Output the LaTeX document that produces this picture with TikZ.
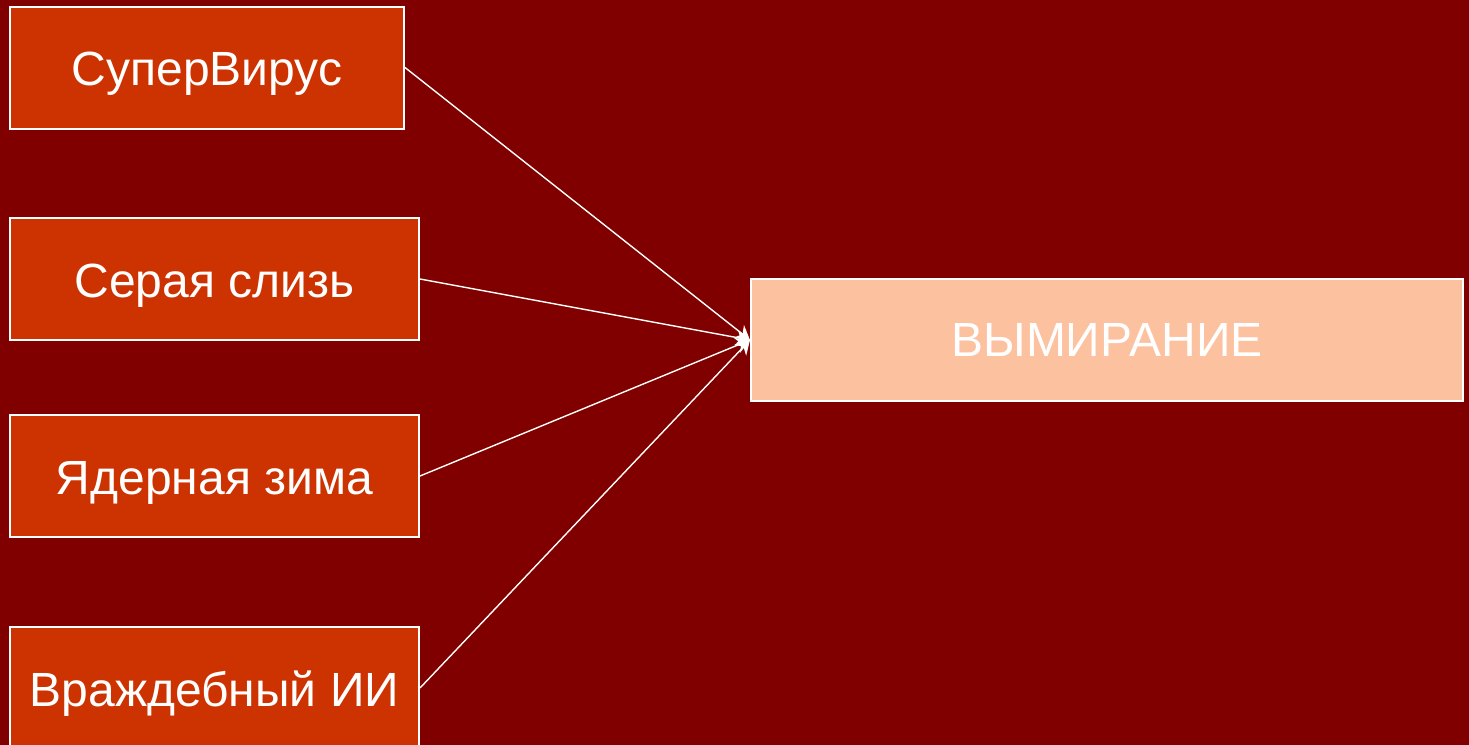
\documentclass[tikz,border=0pt]{standalone}
\usepackage{fontspec}
\setmainfont{Liberation Sans}
\usetikzlibrary{arrows.meta}
\definecolor{darkmaroon}{HTML}{800000}
\definecolor{causered}{HTML}{CC3300}
\definecolor{peach}{HTML}{FCC2A0}

\begin{document}
\begin{tikzpicture}[x=0.5pt,y=-0.5pt,
    cause/.style={draw=white, line width=1pt, fill=causered, text=white,
      minimum width=204.5pt, minimum height=61pt, inner sep=0pt,
      text height=22pt, text depth=4pt, font=\fontsize{24}{28}\selectfont},
    result/.style={draw=white, line width=1pt, fill=peach, text=white,
      minimum width=356pt, minimum height=61pt, inner sep=0pt, font=\fontsize{24}{28}\selectfont},
    link/.style={white, line width=0.7pt, -{Stealth[length=7pt,width=8pt]}}]
  \clip (0,0) rectangle (1469,745);
  \fill[darkmaroon] (0,0) rectangle (1469,745);
  \node[cause, minimum width=197pt] (virus) at (207,67.5) {СуперВирус};
  \node[cause] (goo) at (214.5,279) {Серая слизь};
  \node[cause] (winter) at (214.5,476) {Ядерная зима};
  \node[cause] (ai) at (214.5,688) {Враждебный ИИ};
  \node[result] (extinct) at (1107,340) {ВЫМИРАНИЕ};
  \draw[link] (virus.east) -- (extinct.west);
  \draw[link] (goo.east) -- (extinct.west);
  \draw[link] (winter.east) -- (extinct.west);
  \draw[link] (ai.east) -- (extinct.west);
\end{tikzpicture}
\end{document}
